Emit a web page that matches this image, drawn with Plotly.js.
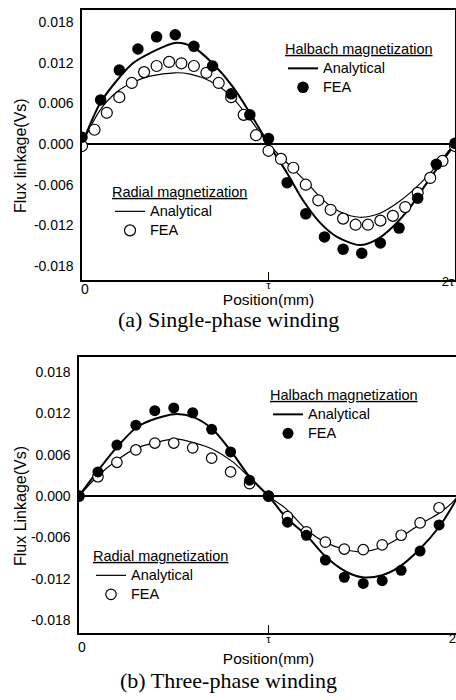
<!DOCTYPE html>
<html>
<head>
<meta charset="utf-8">
<script src="https://cdn.plot.ly/plotly-3.0.1.min.js"></script>
<style>
  html, body { margin: 0; padding: 0; background: #fff; overflow: hidden; }
  #chart { width: 462px; height: 700px; }
</style>
</head>
<body>
<div id="chart"></div>
<script>
// Flux linkage against rotor position; positions are in units of the pole pitch τ.

// ---- (a) single-phase winding ----
const singleHalbachLinePos = [0, 0.097, 0.188, 0.273, 0.365, 0.499, 0.595, 0.70, 0.81, 0.90, 1.0,
  1.10, 1.185, 1.276, 1.367, 1.49, 1.58, 1.667, 1.76, 1.85, 1.936, 2.0];
const singleHalbachLine = [0, 0.0060, 0.0094, 0.0119, 0.0134, 0.0149, 0.0143, 0.0119, 0.0084, 0.0046, 0,
  -0.0043, -0.0083, -0.0116, -0.0137, -0.0149, -0.0141, -0.0122, -0.0093, -0.0057, -0.0024, 0];

const singleRadialLinePos = [0, 0.097, 0.188, 0.273, 0.365, 0.499, 0.58, 0.686, 0.794, 0.90, 1.0,
  1.10, 1.206, 1.29, 1.383, 1.49, 1.598, 1.69, 1.776, 1.867, 1.957, 2.0];
const singleRadialLine = [0, 0.0050, 0.0077, 0.0091, 0.0100, 0.0105, 0.0103, 0.0093, 0.0072, 0.0037, 0,
  -0.0028, -0.0057, -0.0082, -0.0100, -0.0108, -0.0102, -0.0087, -0.0068, -0.0043, -0.0013, 0];

const singleHalbachFeaPos = [0, 0.1, 0.2, 0.3, 0.4, 0.5, 0.6, 0.7, 0.8, 0.9, 1.0,
  1.1, 1.2, 1.3, 1.4, 1.5, 1.6, 1.7, 1.8, 1.9, 2.0];
const singleHalbachFea = [0.0010, 0.0065, 0.0109, 0.0140, 0.0158, 0.0161, 0.0144, 0.0115, 0.0074, 0.0043, 0.0008,
  -0.0057, -0.0103, -0.0137, -0.0155, -0.0161, -0.0146, -0.0124, -0.0080, -0.0030, 0.0001];

const singleRadialFeaPos = [0, 0.067, 0.133, 0.2, 0.267, 0.333, 0.4, 0.467, 0.533, 0.6, 0.667, 0.733, 0.8, 0.867, 0.933, 1.0,
  1.067, 1.133, 1.2, 1.267, 1.333, 1.4, 1.467, 1.533, 1.6, 1.667, 1.733, 1.8, 1.867, 1.933, 2.0];
const singleRadialFea = [-0.0003, 0.0021, 0.0046, 0.0069, 0.0090, 0.0106, 0.0115, 0.0121, 0.0119, 0.0115, 0.0105, 0.0090, 0.0069, 0.0043, 0.0013, -0.0010,
  -0.0022, -0.0035, -0.0060, -0.0083, -0.0097, -0.0110, -0.0119, -0.0119, -0.0113, -0.0106, -0.0093, -0.0072, -0.0050, -0.0025, -0.0003];

// ---- (b) three-phase winding ----
const threeHalbachLinePos = [0, 0.095, 0.2, 0.305, 0.41, 0.505, 0.6, 0.705, 0.805, 0.9, 1.0,
  1.095, 1.2, 1.305, 1.41, 1.495, 1.6, 1.69, 1.795, 1.9, 1.968, 2.0];
const threeHalbachLine = [0, 0.0035, 0.0071, 0.0100, 0.0113, 0.0119, 0.0115, 0.0097, 0.0064, 0.0028, 0,
  -0.0032, -0.0057, -0.0089, -0.0110, -0.0118, -0.0115, -0.0103, -0.0078, -0.0045, -0.0016, 0];

const threeRadialLinePos = [0, 0.095, 0.2, 0.305, 0.41, 0.505, 0.6, 0.705, 0.81, 0.9, 1.0,
  1.095, 1.2, 1.305, 1.41, 1.495, 1.6, 1.69, 1.795, 1.9, 1.968, 2.0];
const threeRadialLine = [0, 0.0028, 0.0052, 0.0070, 0.0078, 0.0083, 0.0078, 0.0068, 0.0050, 0.0027, 0,
  -0.0019, -0.0049, -0.0068, -0.0078, -0.0081, -0.0074, -0.0061, -0.0042, -0.0025, -0.0010, 0];

const threeFeaPos = [0, 0.1, 0.2, 0.3, 0.4, 0.5, 0.6, 0.7, 0.8, 0.9, 1.0,
  1.1, 1.2, 1.3, 1.4, 1.5, 1.6, 1.7, 1.8, 1.9];
const threeHalbachFea = [0, 0.0035, 0.0074, 0.0103, 0.0124, 0.0128, 0.0121, 0.0097, 0.0064, 0.0023, 0,
  -0.0038, -0.0057, -0.0093, -0.0118, -0.0127, -0.0123, -0.0108, -0.0080, -0.0042];
const threeRadialFea = [0, 0.0028, 0.0049, 0.0067, 0.0077, 0.0077, 0.0070, 0.0055, 0.0035, 0.0018, 0,
  -0.0030, -0.0052, -0.0067, -0.0077, -0.0078, -0.0071, -0.0057, -0.0039, -0.0017];

// ---- axis labels and captions ----
const yTickVals = [0.018, 0.012, 0.006, 0, -0.006, -0.012, -0.018];
const yTickText = ['0.018', '0.012', '0.006', '0.000', '-0.006', '-0.012', '-0.018'];
const yTitles = ['Flux linkage(Vs)', 'Flux Linkage(Vs)'];
const xTitle = 'Position(mm)';
const captions = ['(a) Single-phase winding', '(b) Three-phase winding'];

const SANS = 'Liberation Sans, Arial, sans-serif';
const SERIF = 'Liberation Serif, Times New Roman, serif';
const INK = '#000';
const W = 462, H = 700;
const px = v => v / W;          // horizontal pixel -> paper fraction
const py = v => 1 - v / H;      // vertical pixel -> paper fraction

function entry(label) {
  return '<span style="font-size:14.5px">' + label + '</span>';
}

function lineTrace(x, y, xa, ya, width, legend) {
  return {
    x: x, y: y, xaxis: xa, yaxis: ya, type: 'scatter', mode: 'lines',
    line: { color: INK, width: width, shape: 'spline', smoothing: 0.8 },
    name: entry('Analytical'), legend: legend, hoverinfo: 'skip'
  };
}

function dotTrace(x, y, xa, ya, filled, size, legend) {
  return {
    x: x, y: y, xaxis: xa, yaxis: ya, type: 'scatter', mode: 'markers',
    marker: {
      symbol: 'circle', size: size,
      color: filled ? INK : '#fff',
      line: { color: INK, width: filled ? 0 : 1.2 }
    },
    name: entry('FEA'), legend: legend, hoverinfo: 'skip'
  };
}

// The analytical curves sit on the main x axes (which carry the τ tick);
// the FEA points sit on the overlaid axes carrying the "0" and "2τ" labels,
// which share the same range so every point lands on the same scale.
const data = [
  lineTrace(singleHalbachLinePos, singleHalbachLine, 'x', 'y', 2.0, 'legend'),
  lineTrace(singleRadialLinePos, singleRadialLine, 'x', 'y', 1.2, 'legend2'),
  dotTrace(singleRadialFeaPos, singleRadialFea, 'x3', 'y', false, 11, 'legend2'),
  dotTrace(singleHalbachFeaPos, singleHalbachFea, 'x5', 'y', true, 11.5, 'legend'),

  lineTrace(threeHalbachLinePos, threeHalbachLine, 'x2', 'y2', 2.0, 'legend3'),
  lineTrace(threeRadialLinePos, threeRadialLine, 'x2', 'y2', 1.2, 'legend4'),
  dotTrace(threeFeaPos, threeRadialFea, 'x4', 'y2', false, 10.5, 'legend4'),
  dotTrace(threeFeaPos, threeHalbachFea, 'x6', 'y2', true, 11, 'legend3')
];

// main x axis: frame, τ tick and the axis title
function pitchAxis(domain, anchor, labelStandoff, titleStandoff) {
  return {
    domain: domain, anchor: anchor, range: [0, 2], fixedrange: true,
    showline: true, mirror: true, linecolor: INK, linewidth: 1.6,
    showgrid: false, zeroline: false,
    tickmode: 'array', tickvals: [1], ticktext: ['τ'],
    ticks: 'inside', ticklen: 8, tickwidth: 1.2, tickcolor: INK,
    ticklabelstandoff: labelStandoff,
    tickfont: { family: SANS, size: 11, color: INK },
    title: { text: xTitle, font: { family: SANS, size: 15.5, color: INK }, standoff: titleStandoff }
  };
}

// overlaid x axis carrying one extra label (0 or 2τ)
function labelAxis(over, anchor, val, text, size, shift, standoff) {
  return {
    overlaying: over, anchor: anchor, range: [0, 2], fixedrange: true,
    showline: false, showgrid: false, zeroline: false,
    tickmode: 'array', tickvals: [val], ticktext: [text], ticks: '',
    ticklabelshift: shift, ticklabelstandoff: standoff, ticklabeloverflow: 'allow',
    tickfont: { family: SANS, size: size, color: INK }
  };
}

function fluxAxis(domain, anchor, range) {
  return {
    domain: domain, anchor: anchor, range: range, fixedrange: true,
    showline: true, mirror: true, linecolor: INK, linewidth: 1.6,
    showgrid: false, zeroline: true, zerolinecolor: INK, zerolinewidth: 1.5,
    tickmode: 'array', tickvals: yTickVals, ticktext: yTickText, ticks: '',
    ticklabelstandoff: 4,
    tickfont: { family: SANS, size: 14, color: INK }
  };
}

function legendBox(x, y, title) {
  return {
    x: x, y: y, xanchor: 'left', yanchor: 'top', xref: 'paper', yref: 'paper',
    bgcolor: 'rgba(0,0,0,0)', borderwidth: 0, traceorder: 'normal',
    font: { family: SANS, size: 12, color: INK },
    title: { text: title, side: 'top', font: { family: SANS, size: 14.5, color: INK, lineposition: 'under' } },
    itemclick: false, itemdoubleclick: false
  };
}

function note(text, x, y, font, angle) {
  return {
    text: text, xref: 'paper', yref: 'paper', x: x, y: y,
    xanchor: 'center', yanchor: 'middle', showarrow: false,
    textangle: angle || 0, font: font
  };
}

const layout = {
  width: W, height: H,
  margin: { l: 0, r: 0, t: 0, b: 0 },
  paper_bgcolor: '#fff', plot_bgcolor: '#fff',
  showlegend: true,

  xaxis: pitchAxis([px(82), px(455)], 'y', -6, 2),
  xaxis3: labelAxis('x', 'y', 0, '0', 14, 3, -1),
  xaxis5: labelAxis('x', 'y', 2, '2τ', 13, -7, -8),
  yaxis: fluxAxis([py(280), py(9.5)], 'x', [-0.02005, 0.01983]),

  xaxis2: pitchAxis([px(79), px(458)], 'y2', -5, 9),
  xaxis4: labelAxis('x2', 'y2', 0, '0', 14, 3, 4),
  xaxis6: labelAxis('x2', 'y2', 2, '2τ', 13, -3, -4),
  yaxis2: fluxAxis([py(633), py(357)], 'x2', [-0.0199, 0.0202]),

  legend: legendBox(px(283), py(35), 'Halbach magnetization'),
  legend2: legendBox(px(110), py(178), 'Radial magnetization'),
  legend3: legendBox(px(268), py(381), 'Halbach magnetization'),
  legend4: legendBox(px(91), py(542), 'Radial magnetization'),

  annotations: [
    note(yTitles[0], px(20), py(156), { family: SANS, size: 16, color: INK }, -90),
    note(yTitles[1], px(20), py(506), { family: SANS, size: 16, color: INK }, -90),
    note(captions[0], px(228), py(319), { family: SERIF, size: 22, color: INK }),
    note(captions[1], px(228), py(680), { family: SERIF, size: 22, color: INK })
  ]
};

Plotly.newPlot('chart', data, layout, { staticPlot: true, displayModeBar: false });
</script>
</body>
</html>
